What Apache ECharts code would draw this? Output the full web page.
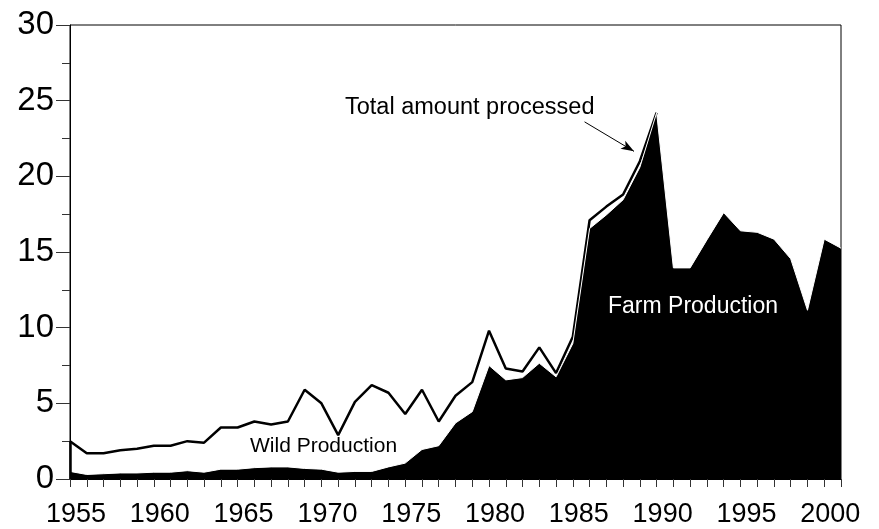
<!DOCTYPE html>
<html lang="en">
  <head>
    <meta charset="UTF-8" />
    <title>Farm and wild production</title>
    <script src="https://cdn.jsdelivr.net/npm/echarts@6/dist/echarts.min.js"></script>
    <style>
      * {
        margin: 0;
        padding: 0;
      }
      body {
        background: #fff;
      }
    </style>
  </head>
  <body>
    <div id="charts" style="width: 879px; height: 529px"></div>
    <script>
      var years = [
        1955, 1956, 1957, 1958, 1959, 1960, 1961, 1962, 1963, 1964, 1965, 1966,
        1967, 1968, 1969, 1970, 1971, 1972, 1973, 1974, 1975, 1976, 1977, 1978,
        1979, 1980, 1981, 1982, 1983, 1984, 1985, 1986, 1987, 1988, 1989, 1990,
        1991, 1992, 1993, 1994, 1995, 1996, 1997, 1998, 1999, 2000, 2001,
      ];
      // total amount processed (farm + wild), line stops where wild is ~0
      var total = [
        2.5, 1.7, 1.7, 1.9, 2.0, 2.2, 2.2, 2.5, 2.4, 3.4, 3.4, 3.8, 3.6, 3.8,
        5.9, 5.0, 2.9, 5.1, 6.2, 5.7, 4.3, 5.9, 3.8, 5.5, 6.4, 9.8, 7.3, 7.1,
        8.7, 7.0, 9.4, 17.1, 18.0, 18.8, 21.0, 24.2,
      ];
      var farm = [
        0.5, 0.3, 0.35, 0.4, 0.4, 0.45, 0.45, 0.55, 0.45, 0.65, 0.65, 0.75, 0.8,
        0.8, 0.7, 0.65, 0.45, 0.5, 0.5, 0.8, 1.05, 1.95, 2.2, 3.7, 4.45, 7.5,
        6.55, 6.7, 7.65, 6.75, 8.95, 16.55, 17.45, 18.45, 20.6, 24.2, 13.95,
        13.95, 15.8, 17.6, 16.4, 16.3, 15.85, 14.55, 11.15, 15.85, 15.25,
      ];
      var xLabelStep = 5;
      // arrow from the label to the total line: [year, value]
      var arrowFrom = [1985.7, 23.6];
      var arrowTo = [1988.65, 21.65];

      var totalData = [];
      total.forEach((v, i) => {
        totalData.push([years[i], v]);
      });
      var farmData = [];
      farm.forEach((v, i) => {
        farmData.push([years[i], v]);
      });

      var myEcharts = echarts.init(document.getElementById("charts"));
      var font = "Liberation Sans, Arial, sans-serif";
      var options = {
        animation: false,
        grid: {
          left: 70,
          right: 38,
          top: 25,
          bottom: 50,
          show: true,
          borderColor: "#000",
          borderWidth: 1,
        },
        xAxis: {
          type: "value",
          min: years[0],
          max: years[years.length - 1],
          interval: 1,
          splitLine: { show: false },
          axisLine: { lineStyle: { color: "#000", width: 1 } },
          axisTick: { length: 8, lineStyle: { color: "#333" } },
          axisLabel: {
            color: "#000",
            fontFamily: font,
            fontSize: 27,
            margin: 22,
            padding: [0, 0, 0, 12],
            showMaxLabel: true,
            formatter: function (v) {
              return v % xLabelStep === 0 && v <= 2000 ? String(v) : "";
            },
          },
        },
        yAxis: {
          type: "value",
          min: 0,
          max: 30,
          interval: 5,
          splitLine: { show: false },
          axisLine: { show: true, lineStyle: { color: "#000", width: 1 } },
          axisTick: { show: true, length: 14, lineStyle: { color: "#333" } },
          minorTick: {
            show: true,
            splitNumber: 2,
            length: 8,
            lineStyle: { color: "#333" },
          },
          axisLabel: {
            color: "#000",
            fontFamily: font,
            fontSize: 33,
            margin: 16,
          },
        },
        series: [
          {
            name: "Total amount processed",
            type: "line",
            data: totalData,
            symbol: "none",
            z: 2,
            lineStyle: { color: "#000", width: 2.5 },
            markLine: {
              silent: true,
              symbol: "none",
              label: { show: false },
              lineStyle: { color: "#000", width: 2.5, type: "solid" },
              data: [
                [{ coord: [years[0], 0] }, { coord: [years[0], total[0]] }],
                [
                  { coord: arrowFrom, symbol: "none" },
                  {
                    coord: arrowTo,
                    symbol: "arrow",
                    symbolSize: [7, 13],
                    lineStyle: { width: 1 },
                  },
                ],
              ],
            },
          },
          {
            name: "Farm Production",
            type: "line",
            data: farmData,
            symbol: "none",
            z: 3,
            lineStyle: { color: "#fff", width: 1 },
            areaStyle: { color: "#000", opacity: 1 },
          },
        ],
        graphic: [
          {
            type: "text",
            left: 345,
            top: 96,
            style: {
              text: "Total amount processed",
              font: "23.5px " + font,
              fill: "#000",
            },
          },
          {
            type: "text",
            left: 250,
            top: 436,
            style: {
              text: "Wild Production",
              font: "21px " + font,
              fill: "#000",
            },
          },
          {
            type: "text",
            left: 608,
            top: 295,
            z: 10,
            style: {
              text: "Farm Production",
              font: "23px " + font,
              fill: "#fff",
            },
          },
        ],
      };
      myEcharts.setOption(options);
    </script>
  </body>
</html>
